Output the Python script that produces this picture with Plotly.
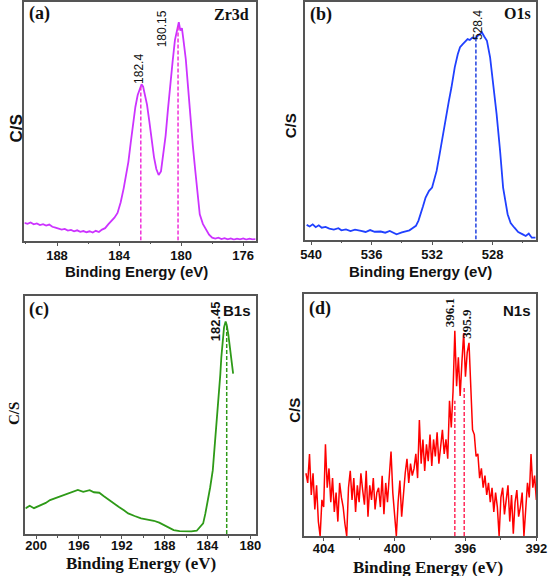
import numpy as np
import plotly.graph_objects as go

# ---------------- data (binding energy eV, counts as % of plot height) ----------------
zr_x = [190.1, 189.9, 189.7, 189.5, 189.3, 189.1, 188.9, 188.7, 188.5, 188.3, 188.1, 187.9, 187.7, 187.5,
        187.3, 187.1, 186.9, 186.7, 186.5, 186.3, 186.1, 185.9, 185.7, 185.5, 185.3, 185.1, 184.9, 184.7,
        184.5, 184.3, 184.1, 183.9, 183.7, 183.55, 183.4, 183.25, 183.1, 182.95, 182.8, 182.65, 182.55,
        182.45, 182.35, 182.2, 182.05, 181.9, 181.75, 181.6, 181.45, 181.3, 181.15, 181.0, 180.85, 180.7,
        180.55, 180.4, 180.25, 180.15, 180.05, 179.95, 179.85, 179.7, 179.55, 179.4, 179.25, 179.1, 178.95,
        178.8, 178.6, 178.4, 178.2, 178.0, 177.8, 177.6, 177.4, 177.2, 177.0, 176.8, 176.6, 176.4, 176.2,
        176.0, 175.8, 175.6, 175.4, 175.2]
zr_y = [7.4, 7.0, 7.6, 6.8, 7.2, 6.5, 6.9, 6.3, 6.7, 5.8, 5.4, 5.0, 4.6, 4.9,
        4.2, 4.5, 3.9, 4.3, 3.7, 4.0, 3.5, 3.9, 3.4, 4.1, 3.6, 4.6, 5.2, 6.8,
        8.0, 9.6, 11.6, 16, 22, 27, 33, 41, 49, 56, 61, 64, 65.5,
        64.5, 62, 57, 50, 42, 35, 30, 27.5, 29, 36, 44, 55, 66,
        75, 84, 89.5, 91.5, 88, 89, 84, 76, 64, 51, 40, 30, 19,
        11, 7, 5, 2.5, 1.2, 0.8, 1.2, 0.6, 1.0, 0.5, 0.9, 0.4, 0.8, 0.5,
        0.9, 0.4, 0.8, 0.5, 0.6]

o_x = [540.3, 540.1, 539.9, 539.7, 539.5, 539.3, 539.05, 538.8, 538.5, 538.2, 538.0, 537.7, 537.4, 537.1,
       536.7, 536.4, 536.1, 535.8, 535.4, 535.1, 534.8, 534.35, 534.0, 533.7, 533.5, 533.3, 533.07, 532.9,
       532.75, 532.6, 532.43, 532.2, 532.0, 531.85, 531.7, 531.5, 531.36, 531.2, 531.04, 530.9, 530.72,
       530.6, 530.5, 530.3, 530.15, 529.97, 529.8, 529.65, 529.5, 529.33, 529.2, 529.0, 528.85, 528.7,
       528.55, 528.37, 528.16, 527.94, 527.73, 527.5, 527.3, 527.0, 526.8, 526.55, 526.3, 526.0, 525.8,
       525.6, 525.4, 525.16]
o_y = [6.2, 5.5, 6.4, 5.2, 6.0, 5.0, 5.3, 4.6, 4.2, 4.8, 3.9, 4.3, 3.6, 4.2,
       3.7, 3.2, 4.0, 3.3, 3.4, 2.9, 3.6, 2.2, 3.0, 3.5, 3.9, 4.8, 5.8, 8,
       10.7, 14, 17.7, 20.5, 21.9, 25, 28.9, 36, 41.6, 48, 52.8, 58, 64,
       69, 72.5, 78, 81, 82.3, 83.5, 84.4, 84, 85, 84.6, 85.8, 86.5, 87.2,
       85.5, 83.7, 76.7, 65.4, 52.8, 37.4, 21.9, 10.7, 7, 5, 3.2, 2.2, 1.5,
       2.5, 0.8, 0.8]

b_x = [201.0, 200.6, 200.2, 199.9, 199.5, 199.1, 198.7, 198.3, 197.9, 197.45, 197.0, 196.55, 196.1, 195.6,
       195.3, 195.0, 194.6, 194.1, 193.7, 193.2, 192.8, 192.3, 191.8, 191.4, 190.8, 190.2, 189.6, 189.0,
       188.5, 188.1, 187.6, 187.15, 186.6, 185.95, 185.5, 185.0, 184.7, 184.4, 184.2, 184.0, 183.75, 183.5,
       183.35, 183.2, 183.05, 182.9, 182.8, 182.7, 182.55, 182.45, 182.3, 182.2, 182.05, 181.9, 181.75, 181.6]
b_y = [10.8, 11.9, 10.9, 11.5, 12.6, 13.1, 14.3, 15.0, 15.6, 16.4, 17.2, 17.8, 18.6, 17.8,
       18.2, 18.5, 17.6, 17.4, 16.0, 14.3, 13.0, 11.5, 10.0, 8.7, 7.6, 6.6, 6.1, 5.6,
       4.8, 3.8, 2.8, 1.7, 1.2, 1.0, 1.1, 1.4, 2.8, 4.5, 8.5, 12.9, 19.5, 26.9,
       35, 43.7, 52, 60.5, 67, 74.5, 82, 87, 89.5, 88, 84, 78.7, 72, 67.5]

# N1s: scan from 405.0 to 392.0 eV in 0.1 eV steps
n_start, n_stop = 405.0, 392.0
n_y = [26, 22, 34, 17, 26, 11, 21, 6, 0, 15, 12,
       38, 20, 28, 14, 24, 10, 18, 6, 22, 16,
       12, 5, 0, 20, 27, 15, 24, 10, 21, 14,
       26, 19, 13, 27, 8, 21, 15, 24, 11, 18,
       20, 12, 25, 9, 22, 14, 27, 35, 18, 10,
       0, 14, 23, 8, 19, 26, 32, 22, 30, 25,
       28, 34, 24, 48, 30, 40, 27, 38, 31, 42,
       29, 40, 33, 43, 30, 36, 44, 34, 40, 32,
       56, 45, 60, 85, 62, 74, 58, 72, 84, 66,
       76, 80, 60, 44, 42, 33, 34, 24, 28, 20,
       25, 17, 22, 14, 20, 10, 18, 12, 0, 16,
       20, 9, 15, 21, 6, 17, 1, 14, 19, 8,
       12, 18, 0, 10, 22, 16, 34, 20, 25, 15]
n_x = np.linspace(n_start, n_stop, len(n_y))

# peak marker lines: position, top, label
zr_peaks = [182.6, 180.2]
zr_tops = [65, 90]
zr_labels = ["182.4", "180.15"]
o_peaks = [529.1]
o_tops = [86]
o_labels = ["528.4"]
b_peaks = [182.2]
b_tops = [88]
b_labels = ["182.45"]
n_peaks = [396.6, 396.07]
n_tops = [56, 62]
n_labels = ["396.1", "395.9"]

W, H = 559, 576
ARIAL = "Arial, Liberation Sans, sans-serif"
TIMES = "Times New Roman, Liberation Serif, serif"

panels = [
    dict(x=zr_x, y=zr_y, c="#cc33ff", dc="#f030d8", xr=[190.1, 175.2], px=(20, 258, 1, 240),
         peaks=zr_peaks, tops=zr_tops, labels=zr_labels, tl=4, so=-2),
    dict(x=o_x, y=o_y, c="#2040ff", dc="#2040e0", xr=[540.4, 525.1], px=(309, 547, 1, 239),
         peaks=o_peaks, tops=o_tops, labels=o_labels, tl=4, so=-2),
    dict(x=b_x, y=b_y, c="#2e9a18", dc="#2e9a18", xr=[201.0, 179.5], px=(21, 258, 296, 534),
         peaks=b_peaks, tops=b_tops, labels=b_labels, tl=3, so=-4),
    dict(x=list(n_x), y=n_y, c="#ff0000", dc="#ff2a5a", xr=[405.1, 392.0], px=(308, 547, 294, 536),
         peaks=n_peaks, tops=n_tops, labels=n_labels, tl=3, so=-3),
]

fig = go.Figure()
for i, p in enumerate(panels):
    k = "" if i == 0 else str(i + 1)
    xa, ya = "x" + k, "y" + k
    x0, x1, yt, yb = p["px"]
    fig.add_trace(go.Scatter(x=p["x"], y=p["y"], mode="lines", xaxis=xa, yaxis=ya,
                             line=dict(color=p["c"], width=1.8 if i < 3 else 1.5), showlegend=False))
    for pk, tp in zip(p["peaks"], p["tops"]):
        fig.add_trace(go.Scatter(x=[pk, pk], y=[0, tp], mode="lines", xaxis=xa, yaxis=ya,
                                 line=dict(color=p["dc"], width=1.5, dash="4px,2px"), showlegend=False))
    axis_common = dict(showline=True, linecolor="#555555", linewidth=1.5, mirror=True,
                       showgrid=False, zeroline=False)
    fig.update_layout(**{
        "xaxis" + k: dict(axis_common, domain=[x0 / W, x1 / W], range=p["xr"], anchor=ya,
                          tick0=0, dtick=4, ticks="outside", ticklen=p["tl"], tickwidth=1.2,
                          tickcolor="#555555",
                          minor=dict(dtick=2, ticks="outside", ticklen=2, tickcolor="#555555"),
                          tickfont=dict(family=ARIAL, size=13, color="#111111", weight="bold"),
                          ticklabelstandoff=p["so"]),
        "yaxis" + k: dict(axis_common, domain=[1 - yb / H, 1 - yt / H], range=[0, 100],
                          anchor=xa, showticklabels=False, ticks=""),
    })

ann = []
def A(text, x, y, size, fam, bold=True, angle=0, xanchor="center", yanchor="middle"):
    t = "<b>" + text + "</b>" if bold else text
    ann.append(dict(text=t, x=x / W, y=1 - y / H, xref="paper", yref="paper", showarrow=False,
                    textangle=angle, xanchor=xanchor, yanchor=yanchor,
                    font=dict(family=fam, size=size, color="#111111")))

# panel letters / element names
A("(a)", 23, 13, 18, TIMES, xanchor="left")
A("Zr3d", 253, 14, 16, TIMES, xanchor="right")
A("(b)", 312, 14, 18, TIMES, xanchor="left")
A("O1s", 544, 13, 16, TIMES, xanchor="right")
A("(c)", 23, 309, 18, TIMES, xanchor="left")
A("B1s", 255, 310, 15, ARIAL, xanchor="right")
A("(d)", 311, 308, 18, TIMES, xanchor="left")
A("N1s", 544, 310, 15, ARIAL, xanchor="right")
# axis titles
A("Binding Energy (eV)", 135, 271, 15, ARIAL)
A("Binding Energy (eV)", 428, 271, 15, ARIAL)
A("Binding Energy (eV)", 140, 563, 17, TIMES)
A("Binding Energy (eV)", 435, 567, 17, TIMES)
A("C/S", 12, 128, 17, ARIAL, angle=-90)
A("C/S", 294, 125, 15, ARIAL, angle=-90)
A("C/S", 10, 413, 15, TIMES, angle=-90)
A("C/S", 298, 410, 15, ARIAL, angle=-90)
# peak labels
A(zr_labels[0], 138, 68, 12, ARIAL, bold=False, angle=-90)
A(zr_labels[1], 162, 28, 12, ARIAL, bold=False, angle=-90)
A(o_labels[0], 487, 24, 12, ARIAL, bold=False, angle=-90)
A(b_labels[0], 217, 321, 13, ARIAL, angle=-90)
A(n_labels[0], 458, 312, 13, TIMES, angle=-90)
A(n_labels[1], 475, 323, 13, TIMES, angle=-90)

fig.update_layout(width=W, height=H, margin=dict(l=0, r=0, t=0, b=0),
                  paper_bgcolor="white", plot_bgcolor="white", annotations=ann)
fig.write_html("out.html", config={"displayModeBar": False},
               post_script="document.body.style.margin='0px';document.body.style.overflow='hidden';")
